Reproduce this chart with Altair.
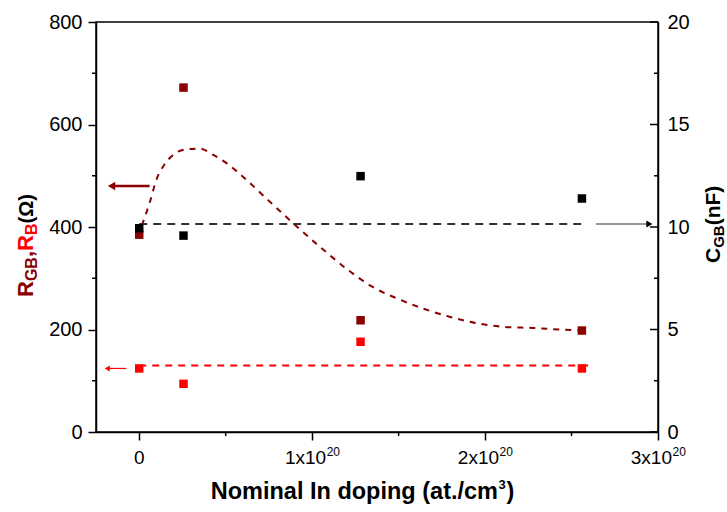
import altair as alt
import pandas as pd

FONT = "Liberation Sans"
DARK_RED = "#8B0000"
RED = "#FF0000"

# Measured points: nominal In doping (at./cm^3)
doping = [0.0, 2.56e19, 1.28e20, 2.56e20]
r_gb = [385, 672, 218, 198]        # grain-boundary resistance (Ohm)
r_b = [124, 94, 176, 124]          # bulk resistance (Ohm)
c_gb = [9.94, 9.58, 12.48, 11.39]  # grain-boundary capacitance (nF)

# Guide-to-the-eye curve through R_GB
fit_x = [0.015e20, 0.06e20, 0.10e20, 0.146e20, 0.194e20, 0.262e20, 0.349e20,
         0.426e20, 0.503e20, 0.60e20, 0.753e20, 0.898e20, 1.081e20, 1.216e20,
         1.35e20, 1.495e20, 1.649e20, 1.794e20, 1.958e20, 2.112e20, 2.277e20,
         2.431e20, 2.566e20]
fit_r = [403, 447, 493, 522, 540, 551, 553, 541, 525, 498, 450, 405, 351, 314,
         283, 260, 240, 225, 212, 205, 203, 200, 198]

# Average levels drawn as dashed guides
rb_level = 129.8
rb_span = [0.0, 2.6e20]
cgb_level = 10.15
cgb_span = [0.0, 2.58e20]

# Axis pointers (which axis each series belongs to)
rgb_arrow_x = [0.06e20, -0.16e20]
rgb_arrow_y = 480
rb_arrow_x = [-0.075e20, -0.185e20]
rb_arrow_y = 124
cgb_arrow_x = [2.64e20, 2.95e20]

# Tick values
left_major = [0, 200, 400, 600, 800]
left_minor = [100, 300, 500, 700]
right_major = [0, 5, 10, 15, 20]
right_minor = [2.5, 7.5, 12.5, 17.5]
x_major = [0, 1e20, 2e20, 3e20]
x_minor = [0.5e20, 1.5e20, 2.5e20]
x_exp_ticks = [1e20, 2e20, 3e20]
x_exp_mantissa = ["1x10", "2x10", "3x10"]
x_exp_power = ["20", "20", "20"]

W, H = 562, 410

XS = alt.Scale(domain=[-0.25e20, 3e20], nice=False, zero=False)
YL = alt.Scale(domain=[0, 800], nice=False, zero=False)
YR = alt.Scale(domain=[0, 20], nice=False, zero=False)

x_axis = alt.Axis(values=x_major, labels=False, title=None, tickSize=8, grid=False)
left_axis = alt.Axis(values=left_major, title=None, orient="left", tickSize=8,
                     labelPadding=6, grid=False)
right_axis = alt.Axis(values=right_major, title=None, orient="right", ticks=False,
                      labelPadding=9, grid=False)


def X(field="x"):
    return alt.X(f"{field}:Q", scale=XS, axis=x_axis)


def YLeft(field="y"):
    return alt.Y(f"{field}:Q", scale=YL, axis=left_axis)


def YRight(field="y"):
    return alt.Y(f"{field}:Q", scale=YR, axis=right_axis)


one = pd.DataFrame({"k": [0]})


def label(text, x, y, color="black", size=22, angle=270, align="left",
          weight="bold", dy=0):
    return alt.Chart(one).mark_text(
        angle=angle, align=align, baseline="alphabetic", font=FONT,
        fontSize=size, fontWeight=weight, color=color, dy=dy,
    ).encode(x=alt.value(x), y=alt.value(y), text=alt.value(text))


pts = pd.DataFrame({"x": doping, "rgb": r_gb, "rb": r_b, "cgb": c_gb})
fit = pd.DataFrame({"x": fit_x, "y": fit_r})

# ---- left-axis group (resistances) ----
rb_line = alt.Chart(pd.DataFrame({"x": rb_span, "y": [rb_level] * 2})).mark_line(
    color=RED, strokeDash=[7, 6], strokeWidth=2).encode(x=X(), y=YLeft())
fit_line = alt.Chart(fit).mark_line(
    color=DARK_RED, strokeDash=[6, 6], strokeWidth=2, interpolate="monotone"
).encode(x=X(), y=YLeft())

rgb_arrow_df = pd.DataFrame({"x": rgb_arrow_x, "y": [rgb_arrow_y] * 2})
rgb_arrow = alt.Chart(rgb_arrow_df).mark_line(color=DARK_RED, strokeWidth=2.5).encode(
    x=X(), y=YLeft())
rgb_head = alt.Chart(rgb_arrow_df.tail(1)).mark_point(
    shape="triangle-left", filled=True, size=70, color=DARK_RED, opacity=1
).encode(x=X(), y=YLeft())

rb_arrow_df = pd.DataFrame({"x": rb_arrow_x, "y": [rb_arrow_y] * 2})
rb_arrow = alt.Chart(rb_arrow_df).mark_line(color=RED, strokeWidth=1.2).encode(
    x=X(), y=YLeft())
rb_head = alt.Chart(rb_arrow_df.tail(1)).mark_point(
    shape="triangle-left", filled=True, size=35, color=RED, opacity=1
).encode(x=X(), y=YLeft())

rgb_pts = alt.Chart(pts).mark_square(size=72, color=DARK_RED, opacity=1).encode(
    x=X(), y=YLeft("rgb"))
rb_pts = alt.Chart(pts).mark_square(size=72, color=RED, opacity=1).encode(
    x=X(), y=YLeft("rb"))

left_minor_ticks = alt.Chart(pd.DataFrame({"y": left_minor})).mark_rule(
    color="black", strokeWidth=1.5).encode(
    y=YLeft(), x=alt.value(0), x2=alt.value(-4))
bottom_minor_ticks = alt.Chart(pd.DataFrame({"x": x_minor})).mark_rule(
    color="black", strokeWidth=1.5).encode(
    x=X(), y=alt.value(H), y2=alt.value(H + 4))

x_zero_label = alt.Chart(pd.DataFrame({"x": [0.0], "t": ["0"]})).mark_text(
    align="center", baseline="alphabetic", font=FONT, fontSize=19, color="black"
).encode(x=X(), y=alt.value(H + 32), text="t:N")
exp_df = pd.DataFrame({"x": x_exp_ticks, "m": x_exp_mantissa, "p": x_exp_power})
x_exp_main = alt.Chart(exp_df).mark_text(
    align="right", baseline="alphabetic", font=FONT, fontSize=19, color="black", dx=14
).encode(x=X(), y=alt.value(H + 32), text="m:N")
x_exp_sup = alt.Chart(exp_df).mark_text(
    align="left", baseline="alphabetic", font=FONT, fontSize=12, color="black", dx=14.5
).encode(x=X(), y=alt.value(H + 24), text="p:N")

# axis titles
titles = [
    # left: R_GB, R_B (Ohm)
    label("R", -63, 275, DARK_RED, 22),
    label("GB", -59, 259.1, DARK_RED, 16),
    label(",", -63, 235.1, DARK_RED, 22),
    label("R", -63, 229, RED, 22),
    label("B", -59, 213.1, RED, 16),
    label("(Ω)", -63, 201.5, "black", 20),
    # right: C_GB (nF)
    label("C", 624, 241, "black", 21),
    label("GB", 628, 225.8, "black", 15),
    label("(nF)", 624, 203.3, "black", 21),
    # bottom
    label("Nominal In doping (at./cm", 402, 477, "black", 23.5, angle=0, align="right"),
    label("3", 402.5, 467, "black", 13, angle=0),
    label(")", 410.5, 477, "black", 23.5, angle=0),
]

left = alt.layer(
    rb_line, fit_line, rgb_arrow, rgb_head, rb_arrow, rb_head,
    rgb_pts, rb_pts, left_minor_ticks, bottom_minor_ticks,
    x_zero_label, x_exp_main, x_exp_sup, *titles,
)

# ---- right-axis group (capacitance) ----
cgb_line = alt.Chart(pd.DataFrame({"x": cgb_span, "y": [cgb_level] * 2})).mark_line(
    color="#333333", strokeDash=[8, 6], strokeWidth=2).encode(x=X(), y=YRight())
cgb_arrow_df = pd.DataFrame({"x": cgb_arrow_x, "y": [cgb_level] * 2})
cgb_arrow = alt.Chart(cgb_arrow_df).mark_line(color="#777777", strokeWidth=1.5).encode(
    x=X(), y=YRight())
cgb_head = alt.Chart(cgb_arrow_df.tail(1)).mark_point(
    shape="triangle-right", filled=True, size=50, color="black", opacity=1
).encode(x=X(), y=YRight())
cgb_pts = alt.Chart(pts).mark_square(size=72, color="black", opacity=1).encode(
    x=X(), y=YRight("cgb"))
right_major_ticks = alt.Chart(pd.DataFrame({"y": right_major})).mark_rule(
    color="black", strokeWidth=1.5).encode(
    y=YRight(), x=alt.value(W), x2=alt.value(W - 8))
right_minor_ticks = alt.Chart(pd.DataFrame({"y": right_minor})).mark_rule(
    color="black", strokeWidth=1.5).encode(
    y=YRight(), x=alt.value(W), x2=alt.value(W - 4))

right = alt.layer(cgb_line, cgb_arrow, cgb_head, cgb_pts,
                  right_major_ticks, right_minor_ticks)

chart = alt.layer(left, right).resolve_scale(y="independent").properties(
    width=W, height=H,
    autosize=alt.AutoSizeParams(type="none"),
    padding={"left": 96, "top": 22, "right": 69, "bottom": 80},
    background="white",
).configure_view(stroke="black", strokeWidth=1.5).configure_axis(
    grid=False, domainColor="black", domainWidth=1.5, tickColor="black",
    tickWidth=1.5, labelFont=FONT, labelFontSize=20, labelColor="black",
)

chart.save("out.html", embed_options={"renderer": "svg", "actions": False})
